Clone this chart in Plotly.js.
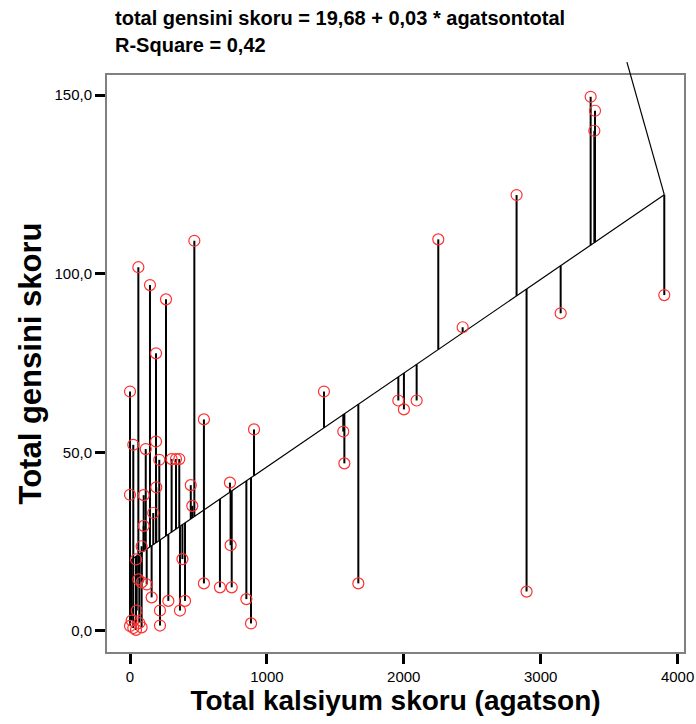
<!DOCTYPE html>
<html>
<head>
<meta charset="utf-8">
<script src="https://cdn.plot.ly/plotly-3.0.1.min.js"></script>
<style>html,body{margin:0;padding:0;background:#fff;}#chart{width:696px;height:724px;}</style>
</head>
<body>
<div id="chart"></div>
<script>
// Total kalsiyum skoru (agatson)
const agatson = [
  0, 61, 146, 190, 263, 470, 540, 906,
  24, 115, 190, 214, 304, 336, 360, 0, 100, 192, 170, 100, 444, 455, 730, 735,
  85, 44, 383, 61, 85, 122, 158, 280, 219, 365, 402, 49, 219, 540, 657, 743, 850, 884,
  12, 68, 24, 0, 85, 44,
  1417, 1558, 1566, 1668, 1960, 2001, 2094, 2252, 2430, 2824, 2897, 3146, 3365, 3397, 3392, 3903
];
// Total gensini skoru
const gensini = [
  67.0, 101.8, 96.8, 77.7, 92.8, 109.2, 59.2, 56.4,
  52.1, 50.9, 53.0, 47.9, 48.1, 48.1, 48.1, 38.1, 38.0, 40.2, 33.0, 29.4, 40.8, 35.0, 41.5, 24.0,
  23.7, 20.0, 20.1, 14.4, 13.6, 13.0, 9.4, 8.4, 5.7, 5.7, 8.4, 5.7, 1.5, 13.3, 12.2, 12.2, 8.9, 2.1,
  2.9, 2.2, 0.8, 1.4, 1.0, 0.3,
  67.0, 55.8, 46.9, 13.3, 64.5, 62.0, 64.5, 109.6, 85.0, 122.0, 11.0, 88.9, 149.5, 145.6, 140.0, 94.0
];
// Regression: total gensini skoru = 19,68 + 0,03 * agatsontotal
const intercept = 19.68;
const slope = 0.02624;
// stray segment leaving the end of the fit line
const strayEnd = {x: 3630, y: 159.2};
const titleLines = ['total gensini skoru = 19,68 + 0,03 * agatsontotal', 'R-Square = 0,42'];
const yTicks = [0, 50, 100, 150];
const xTicks = [0, 1000, 2000, 3000, 4000];

const fit = x => intercept + slope * x;
const xMin = Math.min(...agatson), xMax = Math.max(...agatson);

const rx = [], ry = [];
agatson.forEach((x, i) => { rx.push(x, x, null); ry.push(gensini[i], fit(x), null); });

const yRange = [-5.9, 155.6];
const xRange = [-168, 4047];

const traces = [
  {x: rx, y: ry, mode: 'lines', line: {color: '#000', width: 2}, hoverinfo: 'skip', showlegend: false},
  {x: [xMin, xMax], y: [fit(xMin), fit(xMax)], mode: 'lines', line: {color: '#000', width: 1.2}, showlegend: false},
  {x: agatson, y: gensini, mode: 'markers', marker: {symbol: 'circle-open', size: 11, color: '#ff3030', line: {width: 1.2}}, showlegend: false}
];

const toPaperY = v => (v - yRange[0]) / (yRange[1] - yRange[0]);

const layout = {
  width: 696, height: 724,
  margin: {l: 107, r: 12, t: 75, b: 72},
  paper_bgcolor: '#fff', plot_bgcolor: '#fff',
  separators: ',.',
  font: {family: 'Liberation Sans, Arial, sans-serif', color: '#000'},
  showlegend: false,
  xaxis: {
    range: xRange, tickvals: xTicks, tickformat: 'd',
    showgrid: false, zeroline: false,
    showline: true, mirror: true, linecolor: '#808080', linewidth: 2,
    ticks: 'outside', ticklen: 10, tickwidth: 3, tickcolor: '#000',
    tickfont: {size: 15, color: '#000'},
    title: {text: '<b>Total kalsiyum skoru (agatson)</b>', font: {size: 28, color: '#000'}, standoff: 4}
  },
  yaxis: {
    range: yRange, tickvals: yTicks, tickformat: '.1f',
    showgrid: false, zeroline: false,
    showline: true, mirror: true, linecolor: '#808080', linewidth: 2,
    ticks: 'outside', ticklen: 10, tickwidth: 3, tickcolor: '#000',
    tickfont: {size: 15, color: '#000'},
    title: {text: '<b>Total gensini skoru</b>', font: {size: 31, color: '#000'}, standoff: 4}
  },
  shapes: [
    {type: 'line', xref: 'x', yref: 'paper', x0: xMax, y0: toPaperY(fit(xMax)), x1: strayEnd.x, y1: toPaperY(strayEnd.y),
     line: {color: '#000', width: 1.2}}
  ],
  annotations: [
    {xref: 'paper', yref: 'paper', x: 0.01, y: 1, yshift: 57, xanchor: 'left', yanchor: 'middle', showarrow: false,
     text: '<b>' + titleLines[0] + '</b>', font: {size: 20, color: '#000'}},
    {xref: 'paper', yref: 'paper', x: 0.01, y: 1, yshift: 30, xanchor: 'left', yanchor: 'middle', showarrow: false,
     text: '<b>' + titleLines[1] + '</b>', font: {size: 20, color: '#000'}}
  ]
};

Plotly.newPlot('chart', traces, layout, {displayModeBar: false, staticPlot: true});
</script>
</body>
</html>
